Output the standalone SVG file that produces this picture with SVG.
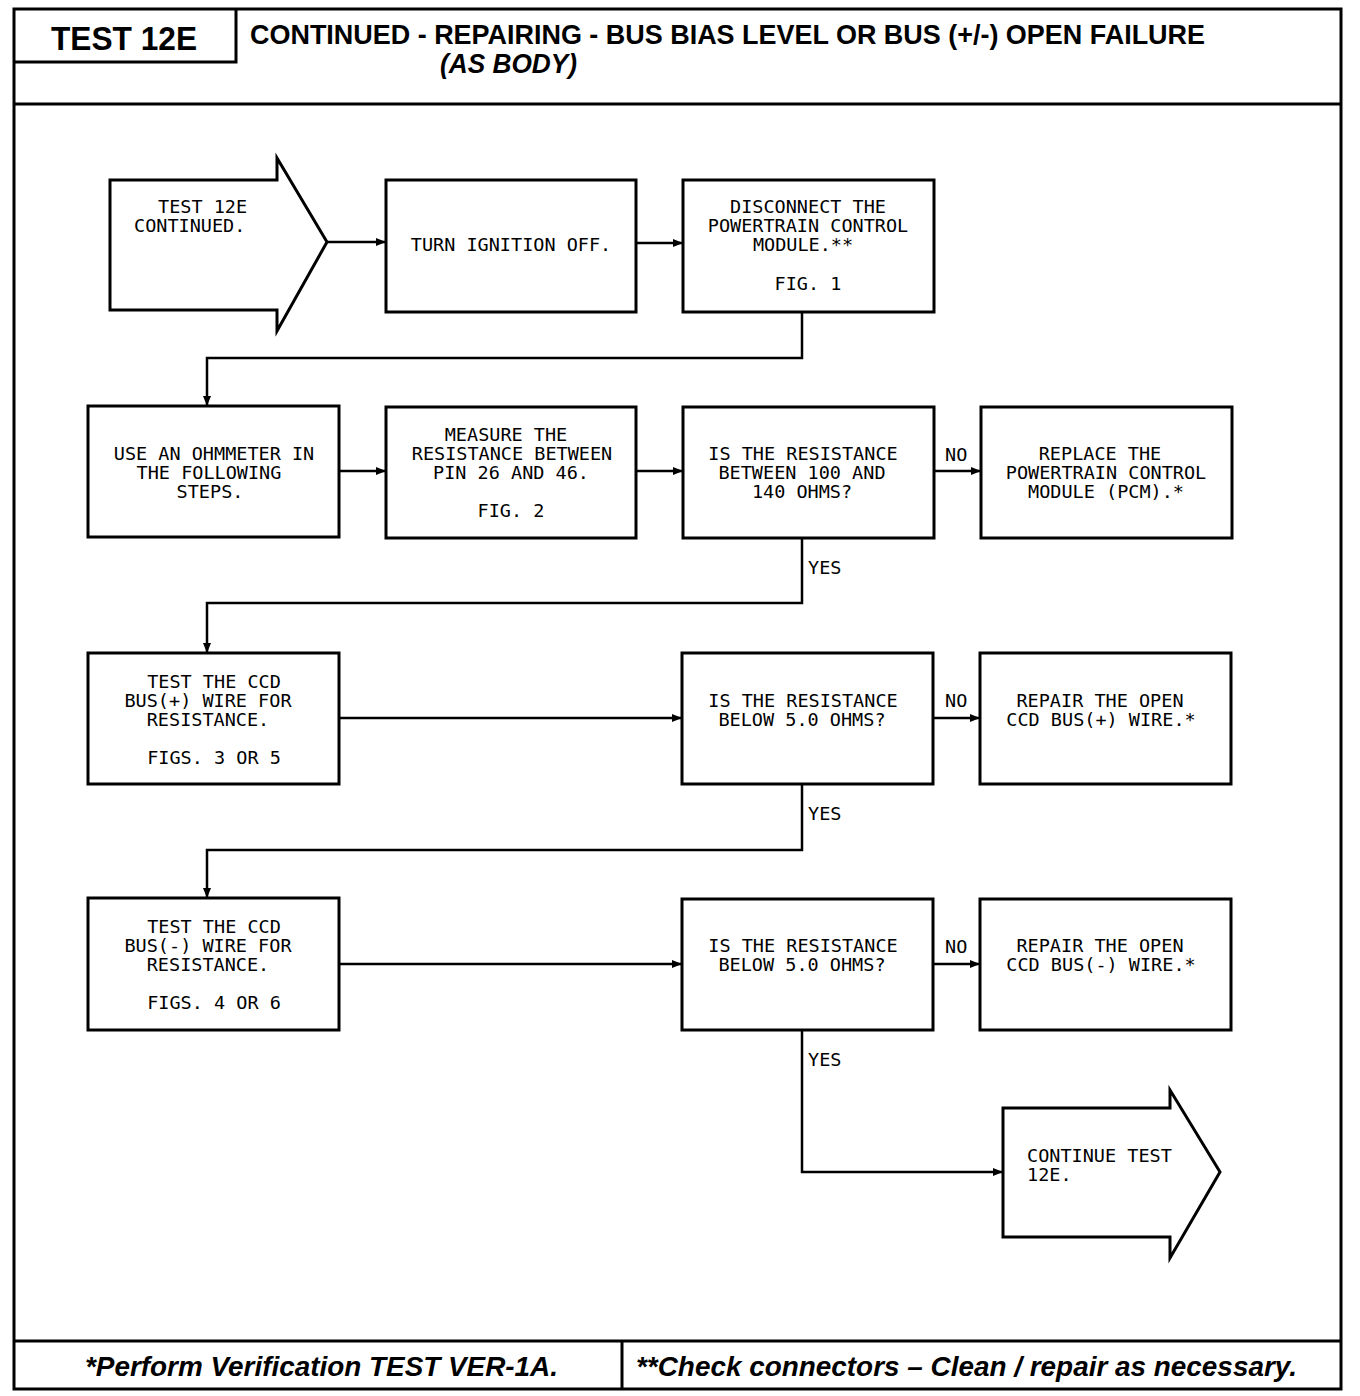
<svg xmlns="http://www.w3.org/2000/svg" width="1360" height="1396" viewBox="0 0 1360 1396">
<defs>
<style>
.frame{fill:none;stroke:#000;stroke-width:3}
.box{fill:#fff;stroke:#000;stroke-width:3}
.conn{fill:none;stroke:#000;stroke-width:2.5}
.t{font-family:"DejaVu Sans Mono","Liberation Mono",monospace;font-size:18.5px;fill:#000;text-anchor:middle}
.lbl{font-family:"DejaVu Sans Mono","Liberation Mono",monospace;font-size:18.5px;fill:#000}
.hd{font-family:"Liberation Sans",Arial,sans-serif;font-weight:bold;fill:#000}
.ft{font-family:"Liberation Sans",Arial,sans-serif;font-weight:bold;font-style:italic;fill:#000;font-size:28px}
</style>
<marker id="ah" markerUnits="userSpaceOnUse" markerWidth="10" markerHeight="8" refX="10" refY="4" orient="auto">
<path d="M0,0 L10,4 L0,8 z" fill="#000"/>
</marker>
</defs>
<rect width="1360" height="1396" fill="#fff"/>
<g id="frame">
<rect class="frame" x="14" y="9" width="1327" height="1380"/>
<line class="frame" x1="14" y1="104" x2="1341" y2="104"/>
<path class="frame" d="M14,62 H236 V9"/>
<line class="frame" x1="14" y1="1341" x2="1341" y2="1341"/>
<line class="frame" x1="622" y1="1341" x2="622" y2="1389"/>
<text class="hd" x="51" y="50" font-size="34" textLength="146" lengthAdjust="spacingAndGlyphs">TEST 12E</text>
<text class="hd" x="250" y="44" font-size="28" textLength="955" lengthAdjust="spacingAndGlyphs">CONTINUED -  REPAIRING - BUS BIAS LEVEL OR BUS (+/-) OPEN FAILURE</text>
<text class="hd" x="440" y="73" font-size="28" font-style="italic" textLength="137" lengthAdjust="spacingAndGlyphs">(AS BODY)</text>
<text class="ft" x="85" y="1376" textLength="473" lengthAdjust="spacingAndGlyphs">*Perform Verification TEST VER-1A.</text>
<text class="ft" x="636" y="1376" textLength="661" lengthAdjust="spacingAndGlyphs">**Check connectors – Clean / repair as necessary.</text>
</g>
<g id="connectors">
<path class="conn" d="M327,242 H386" marker-end="url(#ah)"/>
<path class="conn" d="M636,243 H683" marker-end="url(#ah)"/>
<path class="conn" d="M802,312 V358 H207 V406" marker-end="url(#ah)"/>
<path class="conn" d="M339,471 H386" marker-end="url(#ah)"/>
<path class="conn" d="M636,471 H683" marker-end="url(#ah)"/>
<path class="conn" d="M934,471 H981" marker-end="url(#ah)"/>
<path class="conn" d="M802,538 V603 H207 V653" marker-end="url(#ah)"/>
<path class="conn" d="M339,718 H682" marker-end="url(#ah)"/>
<path class="conn" d="M933,718 H980" marker-end="url(#ah)"/>
<path class="conn" d="M802,784 V850 H207 V898" marker-end="url(#ah)"/>
<path class="conn" d="M339,964 H682" marker-end="url(#ah)"/>
<path class="conn" d="M933,964 H980" marker-end="url(#ah)"/>
<path class="conn" d="M802,1030 V1172 H1003" marker-end="url(#ah)"/>
<text class="lbl" x="945" y="461">NO</text>
<text class="lbl" x="808" y="574">YES</text>
<text class="lbl" x="945" y="707">NO</text>
<text class="lbl" x="808" y="820">YES</text>
<text class="lbl" x="945" y="953">NO</text>
<text class="lbl" x="808" y="1066">YES</text>
</g>
<g id="start">
<polygon class="box" points="110,180 277,180 277,158 327,242 277,331 277,310 110,310"/>
<text class="lbl" x="158" y="213">TEST 12E</text>
<text class="lbl" x="134" y="232">CONTINUED.</text>
</g>
<g id="n-ignition">
<rect class="box" x="386" y="180" width="250" height="132"/>
<text class="t" x="511" y="251">TURN IGNITION OFF.</text>
</g>
<g id="n-disconnect">
<rect class="box" x="683" y="180" width="251" height="132"/>
<text class="t" x="808" y="213">DISCONNECT THE</text>
<text class="t" x="808" y="232">POWERTRAIN CONTROL</text>
<text class="t" x="803" y="251">MODULE.**</text>
<text class="t" x="808" y="290">FIG. 1</text>
</g>
<g id="n-ohmmeter">
<rect class="box" x="88" y="406" width="251" height="131"/>
<text class="t" x="214" y="460">USE AN OHMMETER IN</text>
<text class="t" x="209" y="479">THE FOLLOWING</text>
<text class="t" x="210" y="498">STEPS.</text>
</g>
<g id="n-measure">
<rect class="box" x="386" y="407" width="250" height="131"/>
<text class="t" x="506" y="441">MEASURE THE</text>
<text class="t" x="512" y="460">RESISTANCE BETWEEN</text>
<text class="t" x="511" y="479">PIN 26 AND 46.</text>
<text class="t" x="511" y="517">FIG. 2</text>
</g>
<g id="n-q1">
<rect class="box" x="683" y="407" width="251" height="131"/>
<text class="t" x="803" y="460">IS THE RESISTANCE</text>
<text class="t" x="802" y="479">BETWEEN 100 AND</text>
<text class="t" x="802" y="498">140 OHMS?</text>
</g>
<g id="n-replace">
<rect class="box" x="981" y="407" width="251" height="131"/>
<text class="t" x="1100" y="460">REPLACE THE</text>
<text class="t" x="1106" y="479">POWERTRAIN CONTROL</text>
<text class="t" x="1106" y="498">MODULE (PCM).*</text>
</g>
<g id="n-testplus">
<rect class="box" x="88" y="653" width="251" height="131"/>
<text class="t" x="214" y="688">TEST THE CCD</text>
<text class="t" x="208" y="707">BUS(+) WIRE FOR</text>
<text class="t" x="208" y="726">RESISTANCE.</text>
<text class="t" x="214" y="764">FIGS. 3 OR 5</text>
</g>
<g id="n-q2">
<rect class="box" x="682" y="653" width="251" height="131"/>
<text class="t" x="803" y="707">IS THE RESISTANCE</text>
<text class="t" x="802" y="726">BELOW 5.0 OHMS?</text>
</g>
<g id="n-repairplus">
<rect class="box" x="980" y="653" width="251" height="131"/>
<text class="t" x="1100" y="707">REPAIR THE OPEN</text>
<text class="t" x="1101" y="726">CCD BUS(+) WIRE.*</text>
</g>
<g id="n-testminus">
<rect class="box" x="88" y="898" width="251" height="132"/>
<text class="t" x="214" y="933">TEST THE CCD</text>
<text class="t" x="208" y="952">BUS(-) WIRE FOR</text>
<text class="t" x="208" y="971">RESISTANCE.</text>
<text class="t" x="214" y="1009">FIGS. 4 OR 6</text>
</g>
<g id="n-q3">
<rect class="box" x="682" y="899" width="251" height="131"/>
<text class="t" x="803" y="952">IS THE RESISTANCE</text>
<text class="t" x="802" y="971">BELOW 5.0 OHMS?</text>
</g>
<g id="n-repairminus">
<rect class="box" x="980" y="899" width="251" height="131"/>
<text class="t" x="1100" y="952">REPAIR THE OPEN</text>
<text class="t" x="1101" y="971">CCD BUS(-) WIRE.*</text>
</g>
<g id="end">
<polygon class="box" points="1003,1108 1170,1108 1170,1090 1220,1172 1170,1258 1170,1237 1003,1237"/>
<text class="lbl" x="1027" y="1162">CONTINUE TEST</text>
<text class="lbl" x="1027" y="1181">12E.</text>
</g>
</svg>
